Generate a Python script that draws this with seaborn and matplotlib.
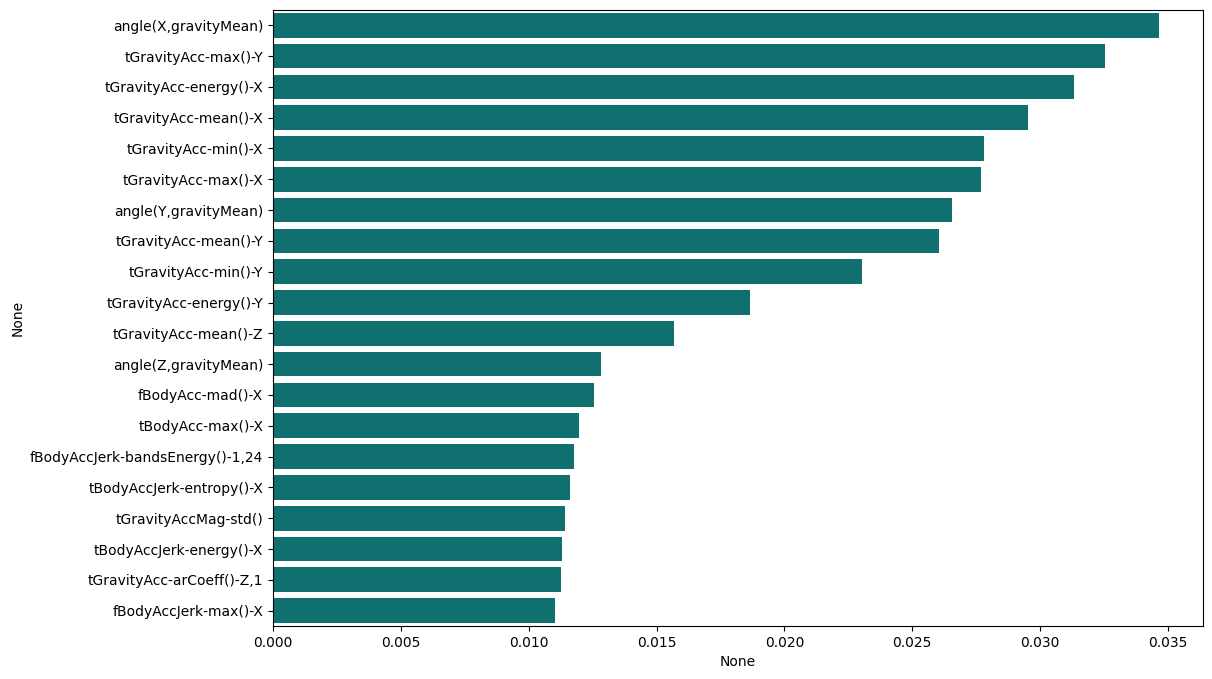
import matplotlib
matplotlib.use("Agg")
import matplotlib.pyplot as plt
import seaborn as sns

features = [
    "angle(X,gravityMean)",
    "tGravityAcc-max()-Y",
    "tGravityAcc-energy()-X",
    "tGravityAcc-mean()-X",
    "tGravityAcc-min()-X",
    "tGravityAcc-max()-X",
    "angle(Y,gravityMean)",
    "tGravityAcc-mean()-Y",
    "tGravityAcc-min()-Y",
    "tGravityAcc-energy()-Y",
    "tGravityAcc-mean()-Z",
    "angle(Z,gravityMean)",
    "fBodyAcc-mad()-X",
    "tBodyAcc-max()-X",
    "fBodyAccJerk-bandsEnergy()-1,24",
    "tBodyAccJerk-entropy()-X",
    "tGravityAccMag-std()",
    "tBodyAccJerk-energy()-X",
    "tGravityAcc-arCoeff()-Z,1",
    "fBodyAccJerk-max()-X",
]

importances = [
    0.03464, 0.03253, 0.03131, 0.02951, 0.02779,
    0.02767, 0.02657, 0.02606, 0.02305, 0.01866,
    0.01569, 0.01283, 0.01256, 0.01197, 0.01177,
    0.01162, 0.01142, 0.01130, 0.01126, 0.01103,
]

fig = plt.figure(figsize=(12.12, 6.79), dpi=100)
ax = fig.add_axes([0.2252, 0.078, 0.7674, 0.9075])

sns.barplot(
    x=importances,
    y=features,
    color="teal",
    ax=ax
)

ax.set_xlabel("None")
ax.set_ylabel("None")

plt.savefig("out.png", dpi=100)
